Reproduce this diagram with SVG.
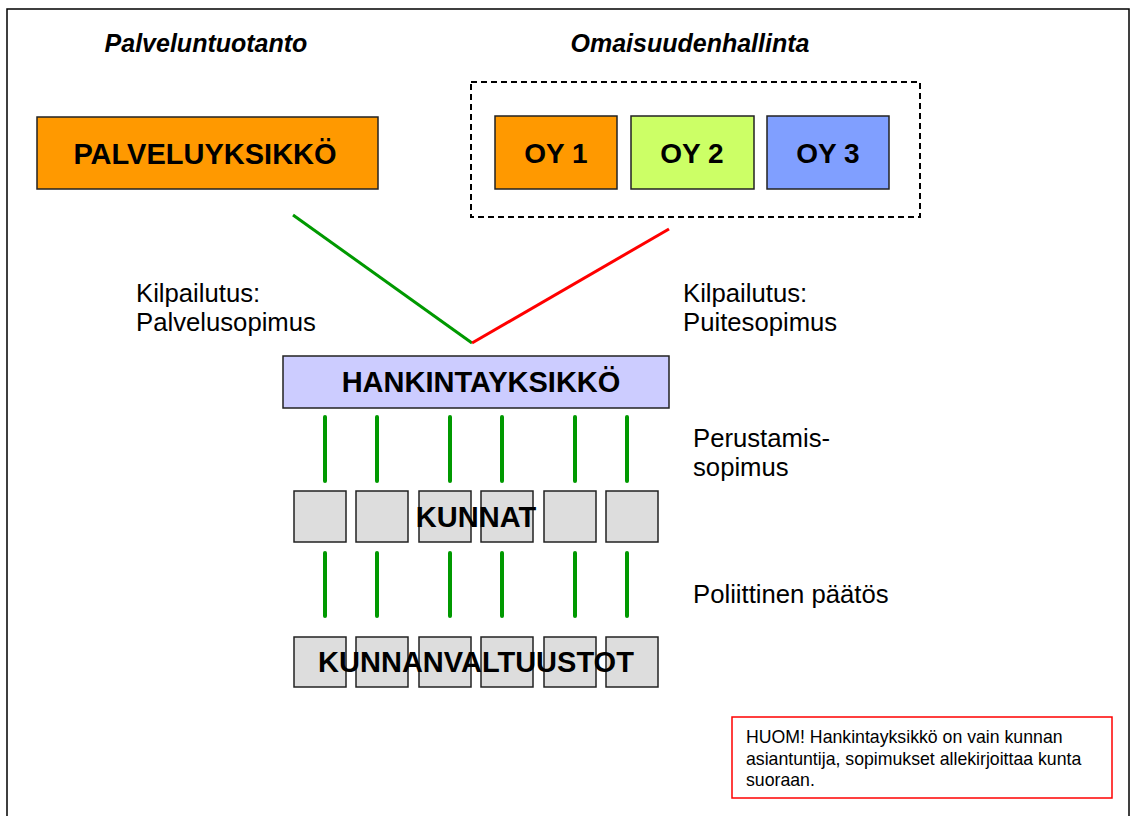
<svg xmlns="http://www.w3.org/2000/svg" width="1139" height="816" viewBox="0 0 1139 816">
<style>
.b{stroke:#222;stroke-width:1.5}
.bt{font-family:"Liberation Sans",Arial,sans-serif;font-weight:bold;font-size:29px;fill:#000;text-anchor:middle}
.it{font-family:"Liberation Sans",Arial,sans-serif;font-weight:bold;font-style:italic;font-size:25px;fill:#000;text-anchor:middle}
.lb{font-family:"Liberation Sans",Arial,sans-serif;font-size:25.7px;fill:#000}
.nt{font-family:"Liberation Sans",Arial,sans-serif;font-size:17.7px;fill:#000}
.g{stroke:#009900;stroke-width:4;stroke-linecap:round}
.k{fill:#DDDDDD}
</style>
<rect x="7" y="9" width="1122" height="830" fill="#fff" stroke="#000" stroke-width="1.5"/>
<text class="it" x="206" y="52">Palveluntuotanto</text>
<text class="it" x="690" y="52">Omaisuudenhallinta</text>
<g id="palveluyksikko"><rect class="b" x="37" y="117" width="341" height="72" fill="#FF9900"/><text class="bt" x="205" y="164">PALVELUYKSIKKÖ</text></g>
<g id="omaisuus"><rect x="471" y="82" width="449" height="135" fill="none" stroke="#000" stroke-width="2" stroke-dasharray="6,4"/></g>
<g id="oy1"><rect class="b" x="495" y="116" width="122" height="73" fill="#FF9900"/><text class="bt" x="556" y="163" style="font-size:28px">OY 1</text></g>
<g id="oy2"><rect class="b" x="631" y="116" width="123" height="73" fill="#CCFF66"/><text class="bt" x="692" y="163" style="font-size:28px">OY 2</text></g>
<g id="oy3"><rect class="b" x="767" y="116" width="122" height="73" fill="#809FFF"/><text class="bt" x="828" y="163" style="font-size:28px">OY 3</text></g>
<g id="connectors">
<line x1="293" y1="215" x2="472" y2="343" stroke="#009900" stroke-width="3"/>
<line x1="669" y1="229" x2="472" y2="343" stroke="#FF0000" stroke-width="3"/>
<line class="g" x1="325" y1="417" x2="325" y2="481"/>
<line class="g" x1="377" y1="417" x2="377" y2="481"/>
<line class="g" x1="450" y1="417" x2="450" y2="481"/>
<line class="g" x1="502" y1="417" x2="502" y2="481"/>
<line class="g" x1="575" y1="417" x2="575" y2="481"/>
<line class="g" x1="627" y1="417" x2="627" y2="481"/>
<line class="g" x1="325" y1="553" x2="325" y2="616"/>
<line class="g" x1="377" y1="553" x2="377" y2="616"/>
<line class="g" x1="450" y1="553" x2="450" y2="616"/>
<line class="g" x1="502" y1="553" x2="502" y2="616"/>
<line class="g" x1="575" y1="553" x2="575" y2="616"/>
<line class="g" x1="627" y1="553" x2="627" y2="616"/>
</g>
<text class="lb" x="136" y="302">Kilpailutus:</text>
<text class="lb" x="136" y="331">Palvelusopimus</text>
<text class="lb" x="683" y="302">Kilpailutus:</text>
<text class="lb" x="683" y="331">Puitesopimus</text>
<g id="hankintayksikko"><rect class="b" x="283" y="356" width="386" height="52" fill="#CCCCFF"/><text class="bt" x="481" y="392">HANKINTAYKSIKKÖ</text></g>
<text class="lb" x="693" y="447">Perustamis-</text>
<text class="lb" x="693" y="476">sopimus</text>
<g id="kunnat">
<rect class="b k" x="294" y="491" width="52" height="51"/>
<rect class="b k" x="356" y="491" width="52" height="51"/>
<rect class="b k" x="419" y="491" width="52" height="51"/>
<rect class="b k" x="481" y="491" width="52" height="51"/>
<rect class="b k" x="544" y="491" width="52" height="51"/>
<rect class="b k" x="606" y="491" width="52" height="51"/>
<text class="bt" x="476" y="527">KUNNAT</text>
</g>
<text class="lb" x="693" y="603">Poliittinen päätös</text>
<g id="kunnanvaltuustot">
<rect class="b k" x="294" y="637" width="52" height="50"/>
<rect class="b k" x="356" y="637" width="52" height="50"/>
<rect class="b k" x="419" y="637" width="52" height="50"/>
<rect class="b k" x="481" y="637" width="52" height="50"/>
<rect class="b k" x="544" y="637" width="52" height="50"/>
<rect class="b k" x="606" y="637" width="52" height="50"/>
<text class="bt" x="476" y="672">KUNNANVALTUUSTOT</text>
</g>
<g id="huom"><rect x="732" y="717" width="380" height="81" fill="#fff" stroke="#FF0000" stroke-width="1.5"/>
<text class="nt" x="746" y="743">HUOM! Hankintayksikkö on vain kunnan</text>
<text class="nt" x="746" y="765">asiantuntija, sopimukset allekirjoittaa kunta</text>
<text class="nt" x="746" y="786">suoraan.</text></g>
</svg>
